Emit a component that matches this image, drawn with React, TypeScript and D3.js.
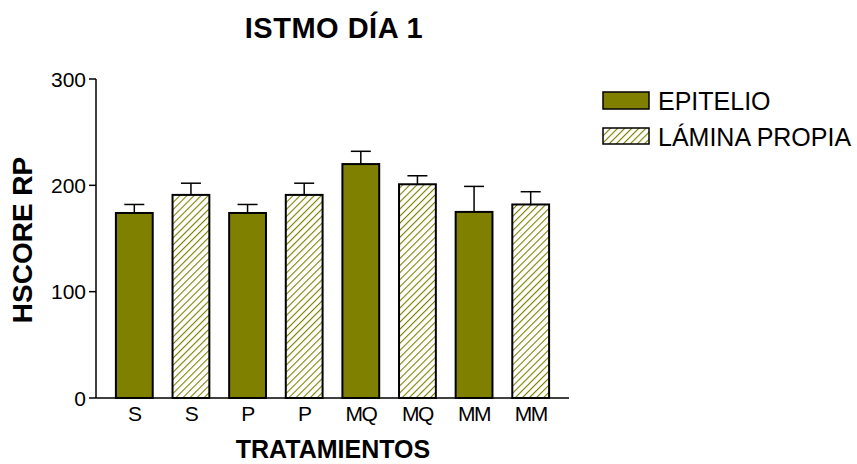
import React from "react";
import * as d3 from "d3";

const categories = ["S", "S", "P", "P", "MQ", "MQ", "MM", "MM"];
const series = ["EPITELIO", "LÁMINA PROPIA", "EPITELIO", "LÁMINA PROPIA", "EPITELIO", "LÁMINA PROPIA", "EPITELIO", "LÁMINA PROPIA"];
const values = [174, 191, 174, 191, 220, 201, 175, 182];
const errors = [8, 11, 8, 11, 12, 8, 24, 12];
const yTicks = [0, 100, 200, 300];
const legendItems = ["EPITELIO", "LÁMINA PROPIA"];

const OLIVE = "#808000";
const FONT = "Arial, 'Liberation Sans', Helvetica, sans-serif";

export default function App() {
  const W = 857, H = 464;
  const y = d3.scaleLinear().domain([0, 300]).range([398, 79]);
  const x = d3
    .scaleBand<number>()
    .domain(categories.map((_, i) => i))
    .range([106, 559])
    .paddingInner(0.35)
    .paddingOuter(0.175);
  const fillFor = (s: string) => (s === "EPITELIO" ? OLIVE : "url(#hatch)");

  return (
    <svg width={W} height={H} style={{ position: "absolute", left: 0, top: 0 }} fontFamily={FONT}>
      <defs>
        <pattern id="hatch" patternUnits="userSpaceOnUse" width={5} height={5} patternTransform="rotate(45)">
          <rect width={5} height={5} fill="#fff" />
          <line x1={0} y1={0} x2={0} y2={5} stroke={OLIVE} strokeWidth={2.2} />
        </pattern>
      </defs>
      <rect width={W} height={H} fill="#fff" />
      <text x={334} y={38} textAnchor="middle" fontWeight="bold" fontSize={29} letterSpacing={0.5}>ISTMO DÍA 1</text>

      {/* bars */}
      {values.map((v, i) => {
        const bx = x(i)!;
        const bw = x.bandwidth();
        const cx = bx + bw / 2;
        return (
          <g key={i}>
            <line x1={cx} x2={cx} y1={y(v)} y2={y(v + errors[i])} stroke="#000" strokeWidth={1.5} />
            <line x1={cx - 10} x2={cx + 10} y1={y(v + errors[i])} y2={y(v + errors[i])} stroke="#000" strokeWidth={1.5} />
            <rect x={bx} y={y(v)} width={bw} height={y(0) - y(v)} fill={fillFor(series[i])} stroke="#000" strokeWidth={2} />
          </g>
        );
      })}

      {/* y axis */}
      <line x1={96} x2={96} y1={y(300)} y2={y(0)} stroke="#000" strokeWidth={1.5} />
      {yTicks.map((t) => (
        <g key={t}>
          <line x1={89} x2={96} y1={y(t)} y2={y(t)} stroke="#000" strokeWidth={1.5} />
          <text x={86} y={y(t) + 7.5} textAnchor="end" fontSize={21}>{t}</text>
        </g>
      ))}
      {/* x axis */}
      <line x1={96} x2={569} y1={y(0)} y2={y(0)} stroke="#000" strokeWidth={1.5} />
      {categories.map((c, i) => (
        <text key={i} x={x(i)! + x.bandwidth() / 2} y={421} textAnchor="middle" fontSize={21} letterSpacing={-1.5}>{c}</text>
      ))}

      <text x={333} y={458} textAnchor="middle" fontWeight="bold" fontSize={25}>TRATAMIENTOS</text>
      <text transform="translate(32,240) rotate(-90)" textAnchor="middle" fontWeight="bold" fontSize={28}>HSCORE RP</text>

      {/* legend */}
      {legendItems.map((s, i) => (
        <g key={s} transform={`translate(603, ${92 + i * 36})`}>
          <rect x={0} y={0} width={46} height={i === 0 ? 17 : 16} fill={fillFor(s)} stroke="#000" strokeWidth={1.5} />
          <text x={55} y={18} fontSize={25}>{s}</text>
        </g>
      ))}
    </svg>
  );
}
